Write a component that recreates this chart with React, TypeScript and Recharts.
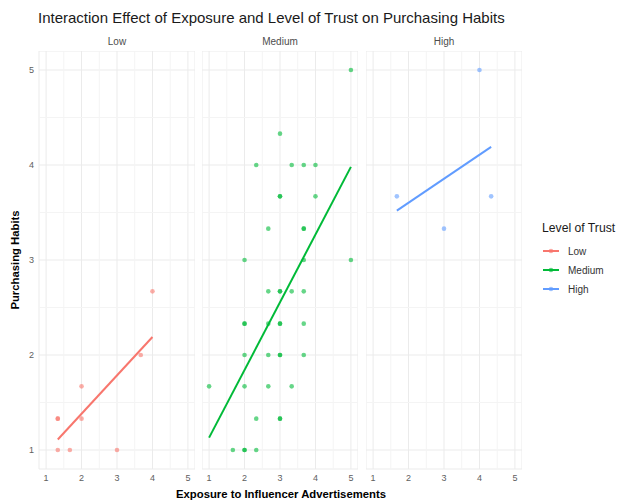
import React from 'react';
import { ScatterChart, Scatter, XAxis, YAxis, CartesianGrid, ReferenceLine } from 'recharts';

// trust levels, one facet each
const TRUST_LEVELS = ['Low', 'Medium', 'High'];
const TRUST_COLORS = ['#F8766D', '#00BA38', '#619CFF'];

const AXIS_TICKS = [1, 2, 3, 4, 5];
const MINOR_TICKS = [1.5, 2.5, 3.5, 4.5];

// observations (exposure score, purchasing score) per trust level
const lowExposure = [1.33, 1.33, 1.33, 1.67, 2, 2, 3, 3.67, 4];
const lowPurchasing = [1.33, 1.33, 1, 1, 1.67, 1.33, 1, 2, 2.67];

const mediumExposure = [
  5,
  3,
  2.33, 3.33, 3.67, 4,
  3, 3, 4,
  2.67, 3.67, 3.67,
  2, 3.67, 5,
  2.67, 3, 3, 3.33, 3.67,
  2, 2, 2.67, 3, 3, 3.67,
  2, 2.67, 3, 3, 3.67,
  1, 2, 2.67, 3.33,
  2.33, 3, 3,
  1.67, 2, 2, 2.33,
];
const mediumPurchasing = [
  5,
  4.33,
  4, 4, 4, 4,
  3.67, 3.67, 3.67,
  3.33, 3.33, 3.33,
  3, 3, 3,
  2.67, 2.67, 2.67, 2.67, 2.67,
  2.33, 2.33, 2.33, 2.33, 2.33, 2.33,
  2, 2, 2, 2, 2,
  1.67, 1.67, 1.67, 1.67,
  1.33, 1.33, 1.33,
  1, 1, 1, 1,
];

const highExposure = [1.67, 3, 4, 4.33];
const highPurchasing = [3.67, 3.33, 5, 3.67];

// linear fit end points per trust level
const lowFitX = [1.33, 4];
const lowFitY = [1.11, 2.19];
const mediumFitX = [1, 5];
const mediumFitY = [1.13, 3.98];
const highFitX = [1.67, 4.33];
const highFitY = [3.52, 4.19];

const toPoints = (xs: number[], ys: number[]) => xs.map((x, i) => ({ x, y: ys[i] }));

const facets = [
  { points: toPoints(lowExposure, lowPurchasing), fit: toPoints(lowFitX, lowFitY) },
  { points: toPoints(mediumExposure, mediumPurchasing), fit: toPoints(mediumFitX, mediumFitY) },
  { points: toPoints(highExposure, highPurchasing), fit: toPoints(highFitX, highFitY) },
];

const FONT = '"Liberation Sans", Arial, sans-serif';
const PANEL_W = 156;
const PANEL_H = 418;
const PANEL_TOP = 51;
const PANEL_LEFTS = [39, 202, 366];
const Y_AXIS_W = 30;
const X_AXIS_H = 20;
const DOMAIN: [number, number] = [0.8, 5.2];

const tickStyle = { fontSize: 9, fill: '#5e5e5e', fontFamily: FONT };

const Facet = ({ index }: { index: number }) => {
  const color = TRUST_COLORS[index];
  const { points, fit } = facets[index];
  const withY = index === 0;
  const left = PANEL_LEFTS[index] - (withY ? Y_AXIS_W : 0);
  return (
    <div style={{ position: 'absolute', left, top: PANEL_TOP }}>
      <ScatterChart
        width={PANEL_W + (withY ? Y_AXIS_W : 0)}
        height={PANEL_H + X_AXIS_H}
        margin={{ top: 0, right: 0, bottom: 0, left: 0 }}
      >
        {MINOR_TICKS.map((v) => (
          <ReferenceLine key={'vx' + v} x={v} stroke="#f4f4f4" strokeWidth={1} />
        ))}
        {MINOR_TICKS.map((v) => (
          <ReferenceLine key={'hy' + v} y={v} stroke="#f4f4f4" strokeWidth={1} />
        ))}
        <CartesianGrid stroke="#ebebeb" strokeWidth={1} />
        <XAxis
          type="number"
          dataKey="x"
          domain={DOMAIN}
          ticks={AXIS_TICKS}
          height={X_AXIS_H}
          axisLine={false}
          tickLine={false}
          tickSize={0}
          tickMargin={6}
          tick={tickStyle}
          interval={0}
        />
        <YAxis
          type="number"
          dataKey="y"
          domain={DOMAIN}
          ticks={AXIS_TICKS}
          width={Y_AXIS_W}
          hide={!withY}
          axisLine={false}
          tickLine={false}
          tickSize={0}
          tickMargin={5}
          tick={tickStyle}
          interval={0}
        />
        <Scatter
          data={points}
          isAnimationActive={false}
          shape={(p: any) => <circle cx={p.cx} cy={p.cy} r={2.3} fill={color} fillOpacity={0.6} />}
        />
        <Scatter
          data={fit}
          isAnimationActive={false}
          line={{ stroke: color, strokeWidth: 2 }}
          lineType="joint"
          shape={() => <g />}
        />
      </ScatterChart>
    </div>
  );
};

const App = () => {
  const panelMid = (i: number) => PANEL_LEFTS[i] + PANEL_W / 2;
  return (
    <div style={{ position: 'absolute', left: 0, top: 0, width: 622, height: 501, background: '#fff' }}>
      {TRUST_LEVELS.map((_, i) => (
        <Facet key={i} index={i} />
      ))}
      <svg width={622} height={501} style={{ position: 'absolute', left: 0, top: 0, pointerEvents: 'none' }} fontFamily={FONT}>
        <text x={38} y={23} fontSize={15} fill="#1a1a1a">
          Interaction Effect of Exposure and Level of Trust on Purchasing Habits
        </text>
        {TRUST_LEVELS.map((lvl, i) => (
          <text key={lvl} x={panelMid(i)} y={45} fontSize={10} fill="#4d4d4d" textAnchor="middle">
            {lvl}
          </text>
        ))}
        <text x={281} y={498} fontSize={11.3} fontWeight="bold" fill="#000" textAnchor="middle">
          Exposure to Influencer Advertisements
        </text>
        <text
          transform="translate(19,260) rotate(-90)"
          fontSize={11.3}
          fontWeight="bold"
          fill="#000"
          textAnchor="middle"
        >
          Purchasing Habits
        </text>
        <text x={542} y={232} fontSize={12.2} fill="#1a1a1a">
          Level of Trust
        </text>
        {TRUST_LEVELS.map((lvl, i) => {
          const y = 251 + i * 19;
          return (
            <g key={lvl}>
              <line x1={543} x2={559} y1={y} y2={y} stroke={TRUST_COLORS[i]} strokeWidth={2} />
              <circle cx={551} cy={y} r={2.3} fill={TRUST_COLORS[i]} fillOpacity={0.62} />
              <text x={568} y={y + 3.5} fontSize={10} fill="#333">
                {lvl}
              </text>
            </g>
          );
        })}
      </svg>
    </div>
  );
};

export default App;
